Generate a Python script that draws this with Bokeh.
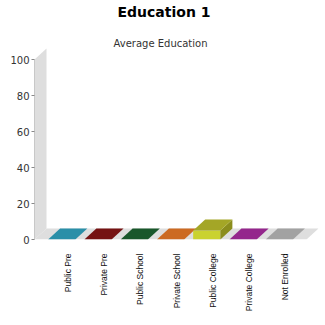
import math
from bokeh.plotting import figure
from bokeh.models import Range1d, FixedTicker, Title, Label
from bokeh.embed import file_html
from bokeh.resources import INLINE

# ---- data ----
categories = ["Public Pre", "Private Pre", "Public School", "Private School",
              "Public College", "Private College", "Not Enrolled"]
values = [0, 0, 0, 0, 5, 0, 0]
y_ticks = [0, 20, 40, 60, 80, 100]
title_text = "Education 1"
subtitle_text = "Average Education"

# ---- style ----
front_colors = ["#33a3bd", "#8a1a1a", "#1f6a35", "#e07a2a", "#cad22f", "#a8309f", "#b5b5b5"]
top_colors = ["#2a8fa8", "#751212", "#19572b", "#cc6a22", "#a4a626", "#94268c", "#a2a2a2"]
side_colors = ["#1f6f82", "#5a0d0d", "#124020", "#a0521a", "#8b8d1c", "#701c6a", "#858585"]
wall_color = "#dedede"

W, H = 325, 325
FL, FR, FT, FB = 34, 318, 20, 239      # frame edges in px
DX_PX, DY_PX = 12, 11                  # 3D depth offset in px
Y_TOP_PX = 59                          # px of value 100
y_px_per_unit = (FB - Y_TOP_PX) / 100.0
y_end = (FB - FT) / y_px_per_unit

n = len(categories)
front_w = FR - DX_PX - FL
lower_m, upper_m, cat_gap = 0.05, 0.05, 0.20
bar_w_px = front_w * (1 - lower_m - upper_m - cat_gap) / n
step_px = bar_w_px + front_w * cat_gap / (n - 1)
first_center_px = FL + lower_m * front_w + bar_w_px / 2 + DX_PX / 2  # label centre
x_start = -(first_center_px - FL) / step_px
x_end = x_start + (FR - FL) / step_px

dxd = DX_PX / step_px
dyd = DY_PX / y_px_per_unit
hw = bar_w_px / 2 / step_px

def xpx(px):
    return x_start + (px - FL) / step_px

def ypx(py):
    return (FB - py) / y_px_per_unit

p = figure(width=W, height=H, output_backend="svg", toolbar_location=None,
           x_range=Range1d(x_start, x_end), y_range=Range1d(0, y_end),
           min_border_left=FL, min_border_right=W - FR, min_border_top=FT,
           min_border_bottom=H - FB, title=None)
p.outline_line_color = None
p.xgrid.visible = False
p.ygrid.visible = False
p.background_fill_color = "white"
p.border_fill_color = "white"

# walls
front_right = x_end - dxd
p.patch([x_start, x_start, x_start + dxd, x_start + dxd],
        [0, 100, 100 + dyd, dyd], fill_color=wall_color, line_color=None)
p.patch([x_start, x_start + dxd, x_end, front_right],
        [0, dyd, dyd, 0], fill_color=wall_color, line_color=None)

# bars
for i, v in enumerate(values):
    c = i - dxd / 2
    l, r = c - hw, c + hw
    if v > 0:
        p.patch([l, r, r, l], [0, 0, v, v], fill_color=front_colors[i], line_color=None)
        p.patch([r, r + dxd, r + dxd, r], [0, dyd, v + dyd, v],
                fill_color=side_colors[i], line_color=None)
    p.patch([l, r, r + dxd, l + dxd], [v, v, v + dyd, v + dyd],
            fill_color=top_colors[i], line_color=None)

# y axis
ya = p.yaxis[0]
ya.ticker = FixedTicker(ticks=y_ticks)
ya.bounds = (0, 100)
ya.axis_line_color = "#c8c8c8"
ya.major_tick_line_color = "#888888"
ya.major_tick_out = 3
ya.major_tick_in = 0
ya.minor_tick_line_color = None
ya.major_label_standoff = 2
ya.major_label_text_font = "DejaVu Sans"
ya.major_label_text_font_size = "10px"
ya.major_label_text_color = "#333333"

# x axis
xa = p.xaxis[0]
xa.ticker = FixedTicker(ticks=list(range(n)))
xa.major_label_overrides = {i: name for i, name in enumerate(categories)}
xa.major_label_orientation = math.pi / 2
xa.axis_line_color = None
xa.major_tick_line_color = None
xa.minor_tick_line_color = None
xa.major_tick_out = 0
xa.major_label_standoff = 14
xa.major_label_text_font = "Liberation Sans"
xa.major_label_text_font_size = "8.5px"
xa.major_label_text_color = "#111111"

# subtitle (inside the frame's top band)
p.add_layout(Label(x=xpx(160), y=ypx(43), text=subtitle_text, text_align="center",
                   text_baseline="alphabetic", text_font="DejaVu Sans",
                   text_font_size="10px", text_color="#333333"))
# main title
p.add_layout(Title(text=title_text, align="left", text_font="DejaVu Sans",
                   text_font_style="bold", text_font_size="14px",
                   text_color="#000000", standoff=2, offset=117 - FL), "above")

open("out.html", "w").write(file_html(p, INLINE))
